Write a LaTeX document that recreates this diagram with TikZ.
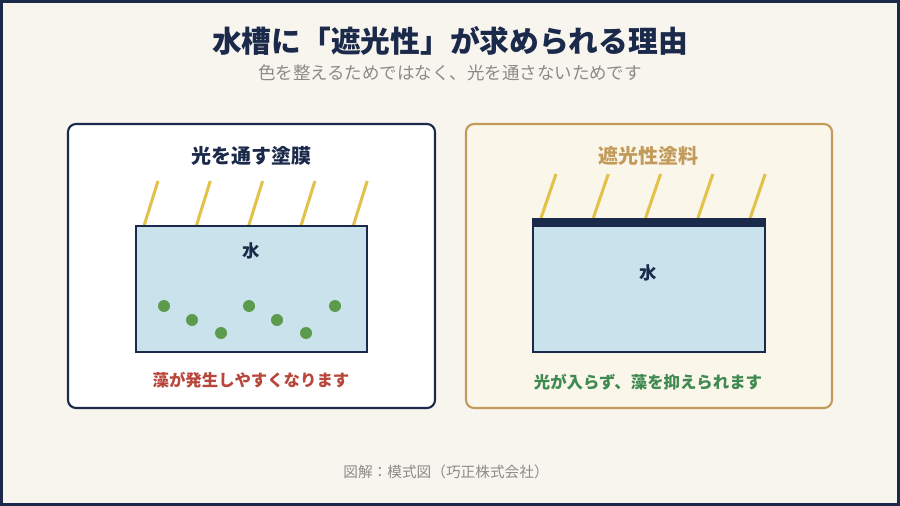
\documentclass[tikz,border=0pt]{standalone}
\usepackage{fontspec}
\setmainfont{Noto Sans CJK JP}
\definecolor{navy}{HTML}{1B2A4A}
\definecolor{cream}{HTML}{F8F5EE}
\definecolor{subgray}{HTML}{8A8A8A}
\definecolor{gold}{HTML}{C29B5A}
\definecolor{panelcream}{HTML}{FBF6EA}
\definecolor{ray}{HTML}{E2C24A}
\definecolor{water}{HTML}{C9E2EC}
\definecolor{algae}{HTML}{5C9A4C}
\definecolor{warnred}{HTML}{B9463A}
\definecolor{okgreen}{HTML}{3F8A50}
\tikzset{
  panel/.style={rounded corners=6pt,line width=1.6pt},
  tank/.style={draw=navy,fill=water,line width=1.5pt},
  rayline/.style={draw=ray,line width=2.3pt},
  dot/.style={circle,fill=algae,inner sep=0pt,minimum size=9pt},
  txt/.style={inner sep=0pt,font=\bfseries\fontsize{12.3pt}{14pt}\selectfont}
}
\begin{document}
\begin{tikzpicture}[x=0.75pt,y=-0.75pt]
\fill[navy] (0,0) rectangle (900,506);
\useasboundingbox (0,0) rectangle (900,506);
\fill[cream] (3,3) rectangle (897,503);
% title
\node[inner sep=0pt,text=navy,font=\bfseries\fontsize{22.3pt}{25pt}\selectfont] (title) at (450,41) {水槽に「遮光性」が求められる理由};
\node[inner sep=0pt,text=subgray,font=\fontsize{13.1pt}{15pt}\selectfont] (sub) at (450,73) {色を整えるためではなく、光を通さないためです};
% left panel
\draw[panel,draw=navy,fill=white] (68,124) rectangle (435,408);
\node[inner sep=0pt,text=navy,font=\bfseries\fontsize{15pt}{17pt}\selectfont] (lt) at (251,156) {光を通す塗膜};
\foreach \x in {0,1,2,3,4}{
  \draw[rayline] ({158+52.3*\x},181) -- ({144+52.3*\x},226);
}
\draw[tank] (136,226) rectangle (367,352);
\node[txt,text=navy,font=\bfseries\fontsize{13pt}{15pt}\selectfont] (lw) at (251,251) {水};
\node[dot] (d1) at (164,306) {};
\node[dot] (d2) at (192,320) {};
\node[dot] (d3) at (221,333) {};
\node[dot] (d4) at (249,306) {};
\node[dot] (d5) at (277,320) {};
\node[dot] (d6) at (306,333) {};
\node[dot] (d7) at (335,306) {};
\node[txt,text=warnred] (lb) at (251,380) {藻が発生しやすくなります};
% right panel
\draw[panel,draw=gold,fill=panelcream] (466,124) rectangle (832,408);
\node[inner sep=0pt,text=gold,font=\bfseries\fontsize{15pt}{17pt}\selectfont] (rt) at (648,156) {遮光性塗料};
\foreach \x in {0,1,2,3,4}{
  \draw[rayline] ({556+52.3*\x},174) -- ({541+52.3*\x},218);
}
\draw[tank] (533,219) rectangle (765,352);
\fill[navy] (532.5,218.5) rectangle (765.5,227);
\node[txt,text=navy,font=\bfseries\fontsize{13pt}{15pt}\selectfont] (rw) at (648,273) {水};
\node[txt,text=okgreen] (rb) at (648,382) {光が入らず、藻を抑えられます};
% footer
\node[inner sep=0pt,text=subgray,font=\fontsize{11pt}{13pt}\selectfont] (foot) at (446,472) {図解：模式図（巧正株式会社）};
\end{tikzpicture}
\end{document}
